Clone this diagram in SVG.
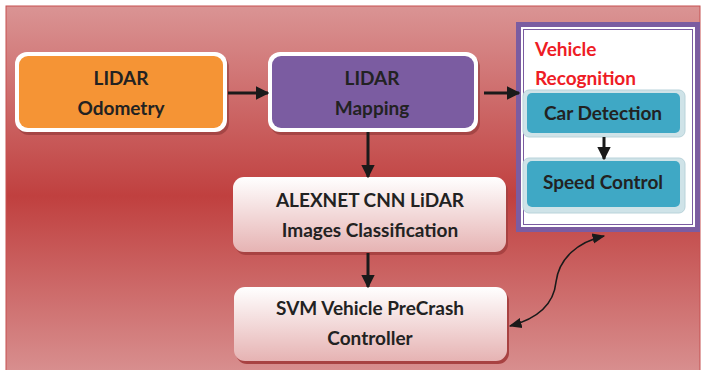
<svg xmlns="http://www.w3.org/2000/svg" width="702" height="370" viewBox="0 0 702 370">
<defs>
<linearGradient id="bg" x1="0" y1="0" x2="0" y2="1">
<stop offset="0" stop-color="#da9494"/>
<stop offset="0.52" stop-color="#c0403f"/>
<stop offset="1" stop-color="#d88f8f"/>
</linearGradient>
<linearGradient id="wp" x1="0" y1="0" x2="0" y2="1">
<stop offset="0" stop-color="#ffffff"/>
<stop offset="1" stop-color="#e6b3b3"/>
</linearGradient>
<marker id="ah" viewBox="0 0 10 10" refX="9" refY="5" markerWidth="4.5" markerHeight="4.5" orient="auto-start-reverse">
<path d="M0,0 L10,5 L0,10 z" fill="#1a1a1a"/>
</marker>
<marker id="ah2" viewBox="0 0 10 10" refX="9" refY="5" markerWidth="8" markerHeight="8" orient="auto-start-reverse">
<path d="M0,1 L10,5 L0,9 z" fill="#1a1a1a"/>
</marker>
</defs>
<style>
.t{font-family:Lato,"Open Sans","Liberation Sans",sans-serif;font-weight:bold;font-size:19px;fill:#222;text-anchor:middle}
.r{font-family:Lato,"Open Sans","Liberation Sans",sans-serif;font-weight:bold;font-size:19px;fill:#ee1c25}
.sh{fill:#7a2a2a;opacity:0.45}
.c{stroke:#1a1a1a;stroke-width:3;fill:none;marker-end:url(#ah)}
</style>
<rect x="6" y="6" width="694" height="366" fill="url(#bg)" stroke="#c55050" stroke-width="1"/>

<g id="odometry">
<rect class="sh" x="17" y="55" width="212" height="80" rx="12"/>
<rect x="15" y="52" width="212" height="80" rx="12" fill="#ffffff"/>
<rect x="19" y="56" width="204" height="72" rx="9" fill="#f59435"/>
<text class="t" x="121" y="85">LIDAR</text>
<text class="t" x="121" y="115">Odometry</text>
</g>

<g id="mapping">
<rect class="sh" x="270" y="55" width="210" height="80" rx="12"/>
<rect x="268" y="52" width="210" height="80" rx="12" fill="#ffffff"/>
<rect x="272" y="56" width="202" height="72" rx="9" fill="#7b5ca1"/>
<text class="t" x="372" y="85">LIDAR</text>
<text class="t" x="372" y="115">Mapping</text>
</g>

<g id="vehicle-recognition">
<rect x="518.5" y="24.5" width="179" height="205" fill="#ffffff" stroke="#7b5ca1" stroke-width="5"/>
<rect x="523.5" y="29.5" width="169" height="195" fill="none" stroke="#7b5ca1" stroke-width="1"/>
<text class="r" x="535" y="56">Vehicle</text>
<text class="r" x="535" y="85">Recognition</text>
</g>

<g id="car-detection">
<rect x="523" y="90" width="162" height="47" rx="6" fill="#cfe3e8" stroke="#b9d3da" stroke-width="1"/>
<rect x="527" y="93" width="153" height="40" rx="5" fill="#3fa8c5"/>
<text class="t" x="603" y="120">Car Detection</text>
</g>

<g id="speed-control">
<rect x="523" y="158" width="162" height="55" rx="6" fill="#cfe3e8" stroke="#b9d3da" stroke-width="1"/>
<rect x="527" y="161" width="153" height="46" rx="5" fill="#3fa8c5"/>
<text class="t" x="603" y="189">Speed Control</text>
</g>

<g id="alexnet">
<rect x="235" y="180" width="273" height="75" rx="11" fill="#a84242"/>
<rect x="233" y="177" width="273" height="75" rx="11" fill="url(#wp)"/>
<text class="t" x="370" y="207">ALEXNET CNN LiDAR</text>
<text class="t" x="370" y="237">Images Classification</text>
</g>

<g id="svm">
<rect x="236" y="290" width="273" height="74" rx="11" fill="#a84242"/>
<rect x="234" y="287" width="273" height="74" rx="11" fill="url(#wp)"/>
<text class="t" x="370" y="315">SVM Vehicle PreCrash</text>
<text class="t" x="370" y="345">Controller</text>
</g>

<g id="connectors">
<line class="c" x1="228" y1="93" x2="268" y2="93"/>
<line class="c" x1="484" y1="93" x2="519" y2="93"/>
<line class="c" x1="368" y1="132" x2="368" y2="177"/>
<line class="c" x1="368" y1="253" x2="368" y2="287"/>
<line class="c" x1="604" y1="137" x2="604" y2="159"/>
<path d="M510,326 C540,318 554,302 556,282 C559,258 578,242 604,236" fill="none" stroke="#1a1a1a" stroke-width="1.6" marker-start="url(#ah2)" marker-end="url(#ah2)"/>
</g>
</svg>
